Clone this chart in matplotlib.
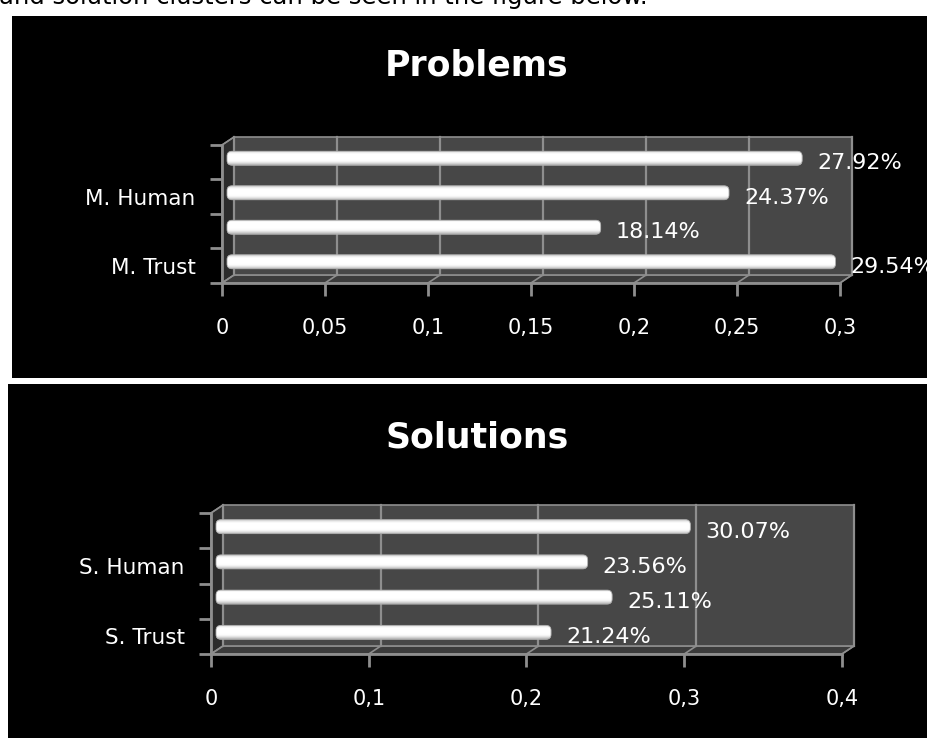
import numpy as np
import matplotlib
matplotlib.use("Agg")
import matplotlib.pyplot as plt
from matplotlib.patches import Rectangle, Polygon, FancyBboxPatch

# ---------------- data ----------------
intro_text = "and solution clusters can be seen in the figure below."

problems_title = "Problems"
problems_labels = ["M. Trust", "", "M. Human", ""]          # bottom -> top
problems_values = [29.54, 18.14, 24.37, 27.92]             # percent, bottom -> top
problems_xticks = [0, 0.05, 0.1, 0.15, 0.2, 0.25, 0.3]
problems_xticklabels = ["0", "0,05", "0,1", "0,15", "0,2", "0,25", "0,3"]

solutions_title = "Solutions"
solutions_labels = ["S. Trust", "", "S. Human", ""]         # bottom -> top
solutions_values = [21.24, 25.11, 23.56, 30.07]            # percent, bottom -> top
solutions_xticks = [0, 0.1, 0.2, 0.3, 0.4]
solutions_xticklabels = ["0", "0,1", "0,2", "0,3", "0,4"]

# ---------------- layout helpers ----------------
W, H = 928, 738
DPI = 100
fig = plt.figure(figsize=(W / DPI, H / DPI), dpi=DPI, facecolor="white")
plt.rcParams["font.family"] = ["DejaVu Sans"]


def fx(x):
    return x / W


def fy(y):
    return 1 - y / H


def panel(x0, y0, x1, y1):
    fig.add_artist(Rectangle((fx(x0), fy(y1)), (x1 - x0) / W, (y1 - y0) / H,
                             transform=fig.transFigure, facecolor="black",
                             edgecolor="none", zorder=0))


GRID = "#8e8e8e"
WALL = "#474747"
FLOOR = "#3b3b3b"
SIDE = "#2c2c2c"

# bar shading profile (top -> bottom)
profile = np.array([0.86, 0.96, 1.0, 1.0, 1.0, 1.0, 1.0, 0.99, 0.95, 0.86, 0.74])
grad = np.repeat(profile[:, None, None], 3, axis=2)


def draw_chart(left, right, top, bottom, title, title_y, values, labels,
               xmax, xticks, xticklabels, depth=(12, 8)):
    ax = fig.add_axes([fx(left), fy(bottom), (right - left) / W, (bottom - top) / H])
    ax.patch.set_visible(False)
    n = len(values)
    ax.set_xlim(0, xmax)
    ax.set_ylim(-0.5, n - 0.5)
    pxx = (right - left) / xmax
    pxy = (bottom - top) / n
    ddx = depth[0] / pxx
    ddy = depth[1] / pxy
    y0, y1 = -0.5, n - 0.5

    # side wall
    ax.add_patch(Polygon([(0, y0), (0, y1), (ddx, y1 + ddy), (ddx, y0 + ddy)],
                         closed=True, facecolor=SIDE, edgecolor=GRID, lw=1.0,
                         zorder=0.5, clip_on=False))
    # floor
    ax.add_patch(Polygon([(0, y0), (xmax, y0), (xmax + ddx, y0 + ddy), (ddx, y0 + ddy)],
                         closed=True, facecolor=FLOOR, edgecolor=GRID, lw=1.0,
                         zorder=0.5, clip_on=False))
    # back wall
    ax.add_patch(Rectangle((ddx, y0 + ddy), xmax, n, facecolor=WALL,
                           edgecolor=GRID, lw=1.2, zorder=0.5, clip_on=False))
    # gridlines on wall and floor
    for t in xticks:
        ax.plot([t + ddx, t + ddx], [y0 + ddy, y1 + ddy], color=GRID, lw=1.6,
                zorder=0.6, clip_on=False)
        ax.plot([t, t + ddx], [y0, y0 + ddy], color=GRID, lw=1.2,
                zorder=0.6, clip_on=False)
    ax.plot([0, ddx], [y1, y1 + ddy], color=GRID, lw=1.2, zorder=0.6, clip_on=False)

    # bars
    bh = 14 / pxy
    bx = 5 / pxx
    by = 4 / pxy
    r = 5 / pxx
    for i, v in enumerate(values):
        w = v / 100.0
        yb = i + by - bh / 2
        patch = FancyBboxPatch((bx, yb), w, bh,
                               boxstyle=f"round,pad=0,rounding_size={r}",
                               mutation_aspect=pxx / pxy,
                               facecolor="white", edgecolor="none", zorder=2,
                               clip_on=False)
        ax.add_patch(patch)
        im = ax.imshow(grad, extent=[bx, bx + w, yb, yb + bh], aspect="auto",
                       zorder=2.1, interpolation="bilinear", origin="upper")
        im.set_clip_path(patch)
        outline = FancyBboxPatch((bx, yb), w, bh,
                                 boxstyle=f"round,pad=0,rounding_size={r}",
                                 mutation_aspect=pxx / pxy,
                                 facecolor="none", edgecolor="#a8a8a8", lw=0.6,
                                 zorder=2.2, clip_on=False)
        ax.add_patch(outline)
        ax.annotate(f"{v:.2f}%", xy=(w, i), xytext=(20 * 0.72, -1 * 0.72),
                    textcoords="offset points", ha="left", va="center",
                    color="white", fontsize=16, zorder=3,
                    annotation_clip=False)

    ax.set_xlim(0, xmax)
    ax.set_ylim(-0.5, n - 0.5)

    # axes / ticks
    for s in ["top", "right"]:
        ax.spines[s].set_visible(False)
    for s in ["left", "bottom"]:
        ax.spines[s].set_color(GRID)
        ax.spines[s].set_linewidth(2)
        ax.spines[s].set_zorder(3)
    ax.set_xticks(xticks)
    ax.set_xticklabels(xticklabels)
    ax.set_yticks(np.arange(-0.5, n, 1.0))
    ax.set_yticklabels([])
    ax.set_yticks(np.arange(n), minor=True)
    ax.set_yticklabels(labels, minor=True)
    ax.tick_params(axis="x", direction="out", length=9, width=2, color=GRID,
                   labelcolor="white", labelsize=15, pad=16)
    ax.tick_params(axis="y", which="major", direction="out", length=9, width=2,
                   color=GRID)
    ax.tick_params(axis="y", which="minor", length=0, labelcolor="white",
                   labelsize=15.5, pad=19)

    fig.text(fx(477), fy(title_y), title, ha="center", va="baseline",
             color="white", fontsize=25, fontweight="bold")
    return ax


# intro line (partially cut at the top of the image)
fig.text(fx(-1), fy(4), intro_text, ha="left", va="baseline", color="black",
         fontsize=17.5)

# panels
panel(12, 16, 928, 378)
panel(8, 384, 928, 738)

draw_chart(222, 840, 145, 283, problems_title, 75, problems_values,
           problems_labels, 0.3, problems_xticks, problems_xticklabels)
draw_chart(211, 842, 513, 654, solutions_title, 447, solutions_values,
           solutions_labels, 0.4, solutions_xticks, solutions_xticklabels)

fig.savefig("out.png", dpi=DPI, facecolor="white")
